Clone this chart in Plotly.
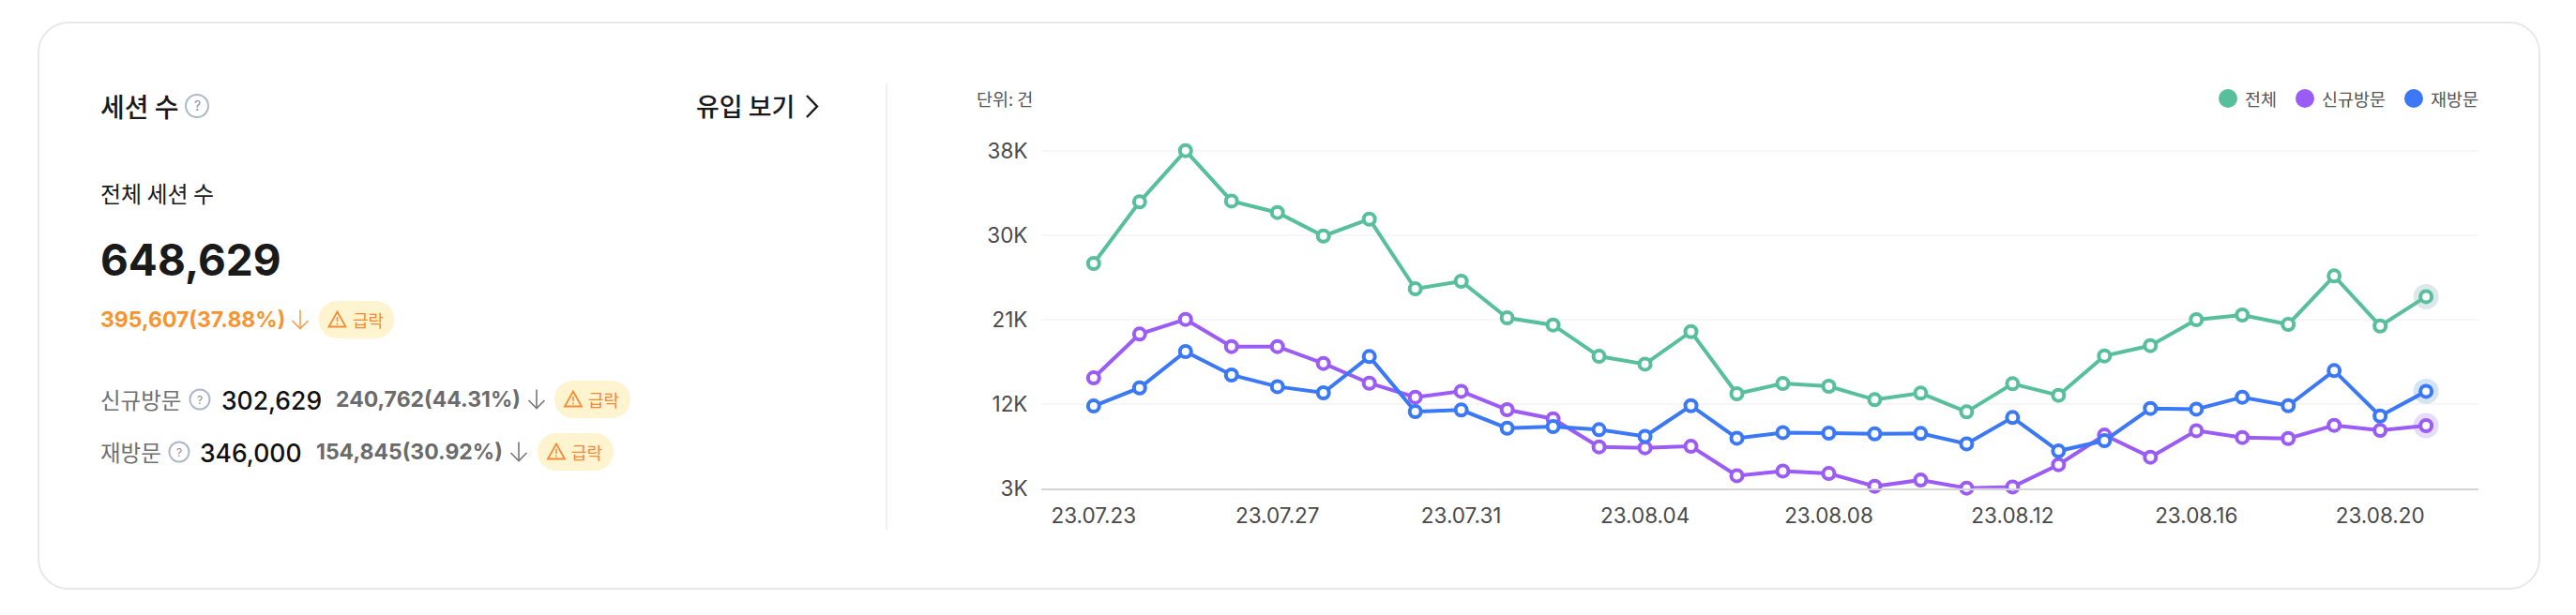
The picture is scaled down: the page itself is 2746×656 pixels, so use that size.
import plotly.graph_objects as go

W, H = 2746, 656

dates = ["23.07.23","23.07.24","23.07.25","23.07.26","23.07.27","23.07.28","23.07.29","23.07.30","23.07.31",
         "23.08.01","23.08.02","23.08.03","23.08.04","23.08.05","23.08.06","23.08.07","23.08.08","23.08.09",
         "23.08.10","23.08.11","23.08.12","23.08.13","23.08.14","23.08.15","23.08.16","23.08.17","23.08.18",
         "23.08.19","23.08.20","23.08.21"]
total = [26570,33030,38400,33120,31910,29450,31220,23910,24700,20860,20110,16830,16010,19420,12900,13980,13690,
         12280,12970,11000,13950,12740,16870,17950,20670,21160,20180,25260,20010,23090]
new_visit = [14570,19160,20700,17850,17850,16080,14010,12540,13160,11230,10280,7330,7230,7390,4310,4800,4540,
             3200,3850,3000,3130,5460,8570,6250,9030,8310,8210,9590,9060,9560]
revisit = [11620,13520,17330,14870,13650,13000,16800,11030,11200,9290,9460,9130,8440,11650,8240,8830,8770,
           8700,8740,7650,10410,6900,7980,11360,11290,12540,11650,15330,10570,13160]
y_tick_vals = [3000,11850,20700,29550,38400]
y_tick_text = ["3K","12K","21K","30K","38K"]
x_tick_vals = ["23.07.23","23.07.27","23.07.31","23.08.04","23.08.08","23.08.12","23.08.16","23.08.20"]
series_names = ["전체","신규방문","재방문"]
series_colors = ["#57BF9B","#9B5CF6","#3B78F6"]
halo_colors = ["#DCE8EE","#E6DCFB","#D6E5F5"]
series_values = [total,new_visit,revisit]

KR = "Inter, 'Noto Sans CJK KR', sans-serif"
KRO = "'Noto Sans CJK KR', sans-serif"

fig = go.Figure()
for vals, halo in zip(series_values, halo_colors):
    fig.add_trace(go.Scatter(x=[dates[-1]], y=[vals[-1]], mode="markers", showlegend=False, cliponaxis=False,
                             marker=dict(size=27, color=halo, line=dict(width=0)), hoverinfo="skip"))
for vals, name, col in zip(series_values, series_names, series_colors):
    fig.add_trace(go.Scatter(x=dates, y=vals, name=name, mode="lines+markers", showlegend=False, cliponaxis=False,
                             line=dict(color=col, width=4),
                             marker=dict(size=12, color="#FFFFFF", line=dict(color=col, width=4))))

def px(x): return x / W
def py(y): return 1 - y / H

shapes, annos = [], []

def text(x, y, s, size, color, family=KR, weight=400, anchor="left"):
    annos.append(dict(x=px(x), y=py(y), xref="paper", yref="paper", text=s, showarrow=False, xanchor=anchor,
                      yanchor="middle", borderpad=0, borderwidth=0,
                      font=dict(size=size, color=color, family=family, weight=weight)))

def pathshape(points, color, width=2, fill=None, closed=False):
    d = "M " + " L ".join(f"{px(a):.6f},{py(b):.6f}" for a, b in points) + (" Z" if closed else "")
    shapes.append(dict(type="path", path=d, xref="paper", yref="paper", line=dict(color=color, width=width),
                       fillcolor=fill or "rgba(0,0,0,0)"))

def rrect(x0, y0, x1, y1, r, fill, line=None, lw=0):
    X = lambda v: f"{px(v):.6f}"
    Y = lambda v: f"{py(v):.6f}"
    k = r * 0.448
    d = (f"M {X(x0+r)},{Y(y0)} L {X(x1-r)},{Y(y0)} C {X(x1-k)},{Y(y0)} {X(x1)},{Y(y0+k)} {X(x1)},{Y(y0+r)} "
         f"L {X(x1)},{Y(y1-r)} C {X(x1)},{Y(y1-k)} {X(x1-k)},{Y(y1)} {X(x1-r)},{Y(y1)} L {X(x0+r)},{Y(y1)} "
         f"C {X(x0+k)},{Y(y1)} {X(x0)},{Y(y1-k)} {X(x0)},{Y(y1-r)} L {X(x0)},{Y(y0+r)} "
         f"C {X(x0)},{Y(y0+k)} {X(x0+k)},{Y(y0)} {X(x0+r)},{Y(y0)} Z")
    shapes.append(dict(type="path", path=d, xref="paper", yref="paper", fillcolor=fill, layer="below",
                       line=dict(color=line or "rgba(0,0,0,0)", width=lw)))

def circle(cx, cy, r, fill, line=None, lw=0):
    shapes.append(dict(type="circle", xref="paper", yref="paper", x0=px(cx-r), x1=px(cx+r), y0=py(cy+r), y1=py(cy-r),
                       fillcolor=fill, line=dict(color=line or "rgba(0,0,0,0)", width=lw)))

def help_icon(cx, cy, r):
    circle(cx, cy, r, "#FFFFFF", "#AEB8CC", 2)
    text(cx, cy, "?", r * 1.15, "#7F8BA5", anchor="center")

def arrow(x, y, color):
    pathshape([(x, y-10), (x, y+10)], color, 1.6)
    pathshape([(x-8.5, y+1.5), (x, y+10), (x+8.5, y+1.5)], color, 1.6)

def pill(x0, y):
    rrect(x0, y-20, x0+81, y+20, 20, "#FFF4D0")
    pathshape([(x0+20, y-8.5), (x0+29, y+7.5), (x0+11, y+7.5)], "#F58A32", 1.8, closed=True)
    pathshape([(x0+20, y-3), (x0+20, y+2)], "#F58A32", 1.5)
    pathshape([(x0+20, y+3.5), (x0+20, y+5.5)], "#F58A32", 1.5)
    text(x0+36, y, "급락", 18, "#F58A32", family=KRO, weight=400)

# card + divider
rrect(41, 24, 2707, 628, 32, "#FFFFFF", "#E8E8E8", 2)
pathshape([(945, 89), (945, 565)], "#EEF1F2", 2)

# left panel
text(106.5, 113, "세션 수", 28, "#1A1A1A", family=KRO, weight=500)
help_icon(210, 113, 12)
text(742, 113, "유입 보기", 27, "#1A1A1A", family=KRO, weight=500)
pathshape([(860, 102), (871, 113.5), (860, 125)], "#1A1A1A", 2.4)
text(106.5, 205.5, "전체 세션 수", 24, "#1A1A1A", family=KRO, weight=400)
text(106.5, 277, "648,629", 46, "#1A1A1A", weight=700)
text(106.5, 341, "395,607(37.88%)", 23, "#F7942F", weight=700)
arrow(320, 340.5, "#F5A04E")
pill(339.5, 341)

text(106.5, 426, "신규방문", 23.5, "#707070", family=KRO)
help_icon(213, 426, 10.5)
text(236, 427, "302,629", 26.5, "#111111", weight=500)
text(358, 426, "240,762(44.31%)", 23, "#6B6B6B", weight=700)
arrow(572, 425.5, "#777777")
pill(591, 426)

text(106.5, 482, "재방문", 23.5, "#707070", family=KRO)
help_icon(191, 482, 10.5)
text(213, 483, "346,000", 26.5, "#111111", weight=500)
text(337, 482, "154,845(30.92%)", 23, "#6B6B6B", weight=700)
arrow(553, 481.5, "#777777")
pill(573, 482)

# chart unit + custom legend
text(1041, 104.5, "단위: 건", 18.5, "#555555", family=KRO)
for name, col, cx in zip(series_names, series_colors, [2375, 2457, 2573]):
    circle(cx, 105, 10, col)
    text(cx + 18, 104.5, name, 18.5, "#555555", family=KRO)

plot_top = 150
plot_bottom = 520.7
y_top = 3000 + (plot_bottom - plot_top) / 90 * 8850

fig.update_layout(
    width=W, height=H, autosize=False, margin=dict(l=0, r=0, t=0, b=0, pad=0),
    paper_bgcolor="#FFFFFF", plot_bgcolor="rgba(0,0,0,0)", shapes=shapes, annotations=annos,
    font=dict(family=KR), showlegend=False,
    xaxis=dict(domain=[px(1110), px(2642)], type="category", categoryorder="array", categoryarray=dates,
               range=[-1.14, 30.14], tickmode="array", tickvals=x_tick_vals, ticktext=x_tick_vals, automargin=False,
               showgrid=False, showline=True, linecolor="#D5D5D5", linewidth=2, zeroline=False,
               ticks="outside", ticklen=8, tickcolor="rgba(0,0,0,0)", tickfont=dict(size=22.5, color="#4A4A4A")),
    yaxis=dict(domain=[py(plot_bottom), py(plot_top)], range=[3000, y_top], tickmode="array", automargin=False,
               tickvals=y_tick_vals, ticktext=y_tick_text, showgrid=True, gridcolor="#F6F6F6", gridwidth=1.5,
               zeroline=False, showline=False, ticks="outside", ticklen=9, tickcolor="rgba(0,0,0,0)",
               tickfont=dict(size=22.5, color="#4A4A4A")),
)
fig.write_html("out.html", config=dict(displayModeBar=False),
               post_script="document.body.style.margin='0';document.documentElement.style.overflow='hidden';")
